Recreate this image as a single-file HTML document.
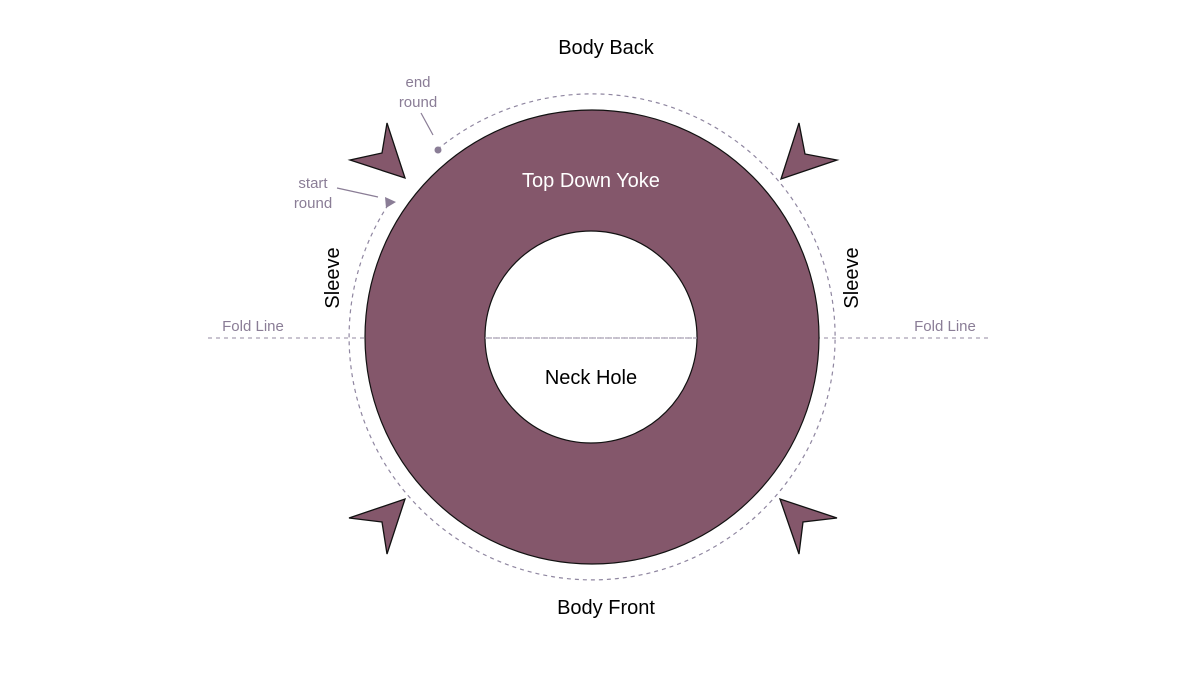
<!DOCTYPE html>
<html><head><meta charset="utf-8"><style>
html,body{margin:0;padding:0;background:#fff;}
svg{display:block;}
text{font-family:"Liberation Sans",sans-serif;}
</style></head><body>
<svg width="1201" height="676" viewBox="0 0 1201 676" xmlns="http://www.w3.org/2000/svg">
<line x1="208" y1="338" x2="992" y2="338" stroke="#a9a1b3" stroke-width="1.3" stroke-dasharray="4,4"/>
<path d="M437.5,149.4 A243,243 0 1,1 390.3,201.5" fill="none" stroke="#8f86a0" stroke-width="1.2" stroke-dasharray="4,4"/>
<path fill-rule="evenodd" fill="#84576b" stroke="#111" stroke-width="1.2" d="M365,337 A227,227 0 1,0 819,337 A227,227 0 1,0 365,337 Z M485,337 A106,106 0 1,0 697,337 A106,106 0 1,0 485,337 Z"/>
<line x1="485" y1="338" x2="697" y2="338" stroke="#a9a1b3" stroke-width="1.3" stroke-dasharray="4,4"/>
<g fill="#84576b" stroke="#111" stroke-width="1.3" stroke-linejoin="miter">
<polygon points="387,123 382,153 350,160 405,178"/>
<polygon points="799,123 805,154 837,160 781,179"/>
<polygon points="349,518 382,522 387,554 405,499"/>
<polygon points="837,518 803,522 799,554 780,499"/>
</g>
<g fill="#8a7d96" stroke="#8a7d96">
<line x1="337" y1="188" x2="378" y2="197" stroke-width="1.2"/>
<polygon points="385,197 396,202 386,208" stroke="none"/>
<line x1="421" y1="113" x2="433" y2="135" stroke-width="1.2"/>
<circle cx="438" cy="150" r="3.5" stroke="none"/>
</g>
<g fill="#8a7d96" font-size="15" text-anchor="middle">
<text x="313" y="188">start</text>
<text x="313" y="208">round</text>
<text x="418" y="87">end</text>
<text x="418" y="107">round</text>
<text x="253" y="331">Fold Line</text>
<text x="945" y="331">Fold Line</text>
</g>
<g font-size="20" text-anchor="middle" fill="#000">
<text x="606" y="54">Body Back</text>
<text x="606" y="614">Body Front</text>
<text x="591" y="384">Neck Hole</text>
<text x="591" y="187" fill="#fff">Top Down Yoke</text>
<text transform="translate(339,278) rotate(-90)">Sleeve</text>
<text transform="translate(858,278) rotate(-90)">Sleeve</text>
</g>
</svg>
</body></html>
